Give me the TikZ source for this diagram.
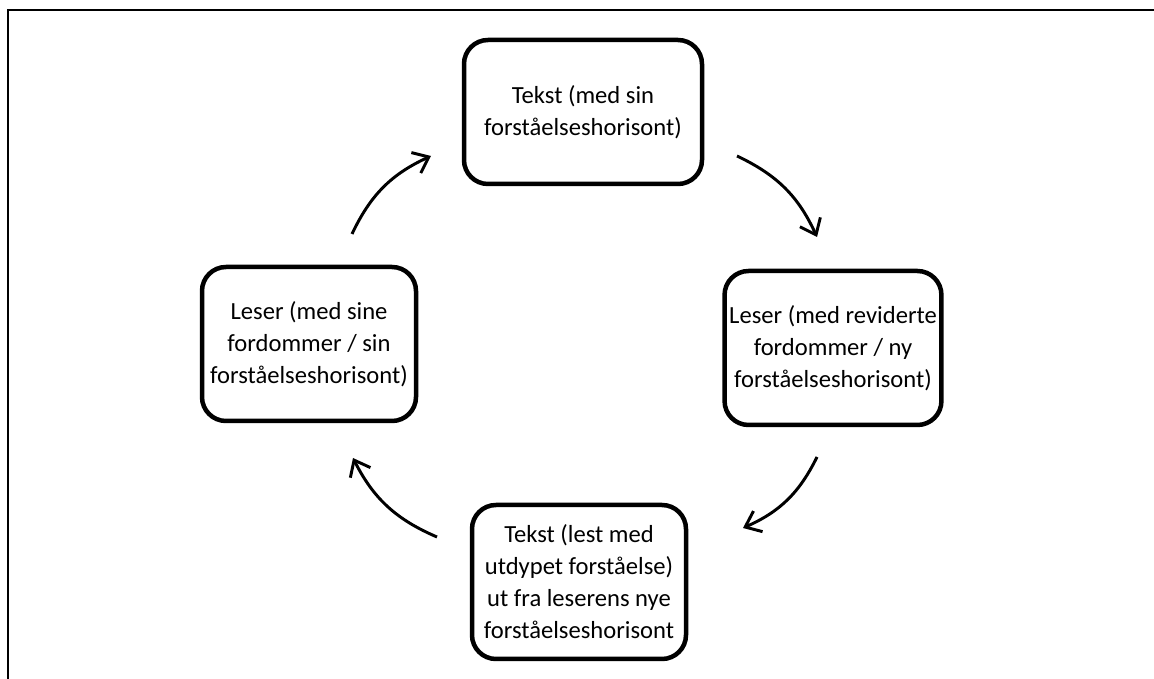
\documentclass[tikz,border=0pt]{standalone}
\usepackage{fontspec}
\setmainfont{Carlito}
\usetikzlibrary{arrows.meta}
\begin{document}
\begin{tikzpicture}[
    box/.style={draw, line width=3.2pt, rounded corners=0.6cm, align=center,
        minimum width=5.35cm, minimum height=3.85cm,
        font=\fontsize{17.5}{22.8}\selectfont},
    cycle/.style={line width=2.1pt, -{Straight Barb[length=10pt,width=16pt]}, bend left=20}
]
    \useasboundingbox (0, 0) rectangle (28.85, 16.975);
    \draw[line width=1.4pt] (0.2, 0) -- (0.2, 16.725) -- (28.85, 16.725);
    \node[box, minimum width=5.95cm, minimum height=3.6cm] (txt1) at (14.575, 14.175) {Tekst (med sin\\forståelseshorisont)};
    \node[box] (les2) at (20.825, 8.275) {Leser (med reviderte\\fordommer / ny\\forståelseshorisont)};
    \node[box] (txt2) at (14.475, 2.425) {Tekst (lest med\\utdypet forståelse)\\ut fra leserens nye\\forståelseshorisont};
    \node[box] (les1) at (7.725, 8.375) {Leser (med sine\\fordommer / sin\\forståelseshorisont)};
    \coordinate (a1s) at (8.8, 11.125);
    \coordinate (a1e) at (10.775, 13.075);
    \coordinate (a2s) at (18.425, 13.075);
    \coordinate (a2e) at (20.425, 11.05);
    \coordinate (a3s) at (20.425, 5.55);
    \coordinate (a3e) at (18.575, 3.775);
    \coordinate (a4s) at (10.925, 3.55);
    \coordinate (a4e) at (8.825, 5.525);
    \draw[cycle] (a1s) to (a1e);
    \draw[cycle] (a2s) to (a2e);
    \draw[cycle] (a3s) to (a3e);
    \draw[cycle] (a4s) to (a4e);
\end{tikzpicture}
\end{document}
